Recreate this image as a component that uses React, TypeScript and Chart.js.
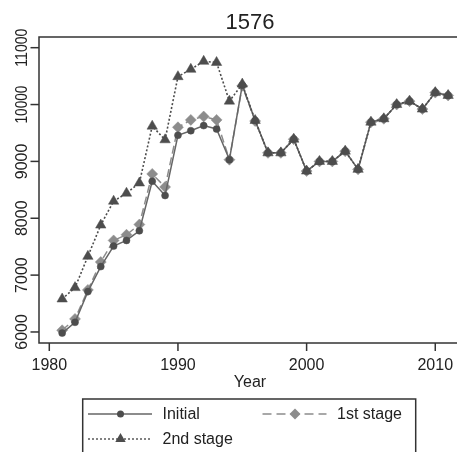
import React, { useEffect, useRef } from "react";
import { Chart, registerables } from "chart.js";

Chart.register(...registerables);

// Yearly series
const years = [
  1981, 1982, 1983, 1984, 1985, 1986, 1987, 1988, 1989, 1990, 1991, 1992, 1993, 1994, 1995, 1996,
  1997, 1998, 1999, 2000, 2001, 2002, 2003, 2004, 2005, 2006, 2007, 2008, 2009, 2010, 2011,
];
const initialValues = [
  5980, 6170, 6710, 7150, 7510, 7610, 7780, 8650, 8400, 9460, 9540, 9630, 9570, 9030, 10340, 9720,
  9150, 9150, 9390, 8830, 9000, 9000, 9180, 8860, 9690, 9750, 10000, 10060, 9920, 10210, 10160,
];
const firstStageValues = [
  6030, 6230, 6740, 7230, 7610, 7710, 7890, 8780, 8550, 9600, 9730, 9790, 9730, 9030, 10330, 9710,
  9150, 9150, 9390, 8830, 9000, 9000, 9180, 8860, 9690, 9750, 10000, 10060, 9920, 10210, 10160,
];
const secondStageValues = [
  6580, 6780, 7330, 7880, 8300, 8440, 8620, 9620, 9380, 10490, 10620, 10760, 10740, 10060, 10360, 9720,
  9150, 9150, 9390, 8830, 9000, 9000, 9180, 8860, 9690, 9750, 10000, 10060, 9920, 10210, 10160,
];

const xTicks = [1980, 1990, 2000, 2010];
const yTicks = [6000, 7000, 8000, 9000, 10000, 11000];
const chartTitle = "1576";
const xAxisTitle = "Year";
const seriesNames = ["Initial", "1st stage", "2nd stage"];

const FONT = "'Liberation Sans', Arial, Helvetica, sans-serif";
const INK = "#333333";
const DARK = "#4d4d4d";
const MID = "#666666";
const LIGHT = "#8c8c8c";

function markerPath(ctx: CanvasRenderingContext2D, style: string, x: number, y: number, r: number) {
  ctx.beginPath();
  if (style === "circle") {
    ctx.arc(x, y, r, 0, Math.PI * 2);
  } else if (style === "rectRot") {
    ctx.moveTo(x, y - r);
    ctx.lineTo(x + r, y);
    ctx.lineTo(x, y + r);
    ctx.lineTo(x - r, y);
  } else {
    let a = 0;
    ctx.moveTo(x + Math.sin(a) * r, y - Math.cos(a) * r);
    a += (2 * Math.PI) / 3;
    ctx.lineTo(x + Math.sin(a) * r, y - Math.cos(a) * r);
    a += (2 * Math.PI) / 3;
    ctx.lineTo(x + Math.sin(a) * r, y - Math.cos(a) * r);
  }
  ctx.closePath();
}

const decorPlugin = {
  id: "decor",
  afterDraw(chart: any) {
    const { ctx, chartArea, scales } = chart;
    const { left, right, top, bottom } = chartArea;
    const xs = scales.x;
    const ys = scales.y;
    ctx.save();

    // plot frame
    ctx.strokeStyle = INK;
    ctx.lineWidth = 1.5;
    ctx.strokeRect(left, top, right - left, bottom - top);

    ctx.fillStyle = "#222222";
    ctx.font = `16px ${FONT}`;

    // x axis ticks and labels
    ctx.textAlign = "center";
    ctx.textBaseline = "alphabetic";
    xTicks.forEach((t) => {
      const x = xs.getPixelForValue(t);
      ctx.beginPath();
      ctx.moveTo(x, bottom);
      ctx.lineTo(x, bottom + 8);
      ctx.stroke();
      ctx.fillText(String(t), x, bottom + 27);
    });

    // y axis ticks and rotated labels
    yTicks.forEach((t) => {
      const y = ys.getPixelForValue(t);
      ctx.beginPath();
      ctx.moveTo(left - 8.5, y);
      ctx.lineTo(left, y);
      ctx.stroke();
      ctx.save();
      ctx.translate(left - 12, y);
      ctx.rotate(-Math.PI / 2);
      ctx.textAlign = "center";
      ctx.fillText(String(t), 0, 0, 38);
      ctx.restore();
    });

    // axis title
    ctx.fillText(xAxisTitle, (left + right) / 2, bottom + 44);

    // chart title
    ctx.font = `22px ${FONT}`;
    ctx.fillText(chartTitle, (left + right) / 2, 29);

    // legend
    const lx = 82.7;
    const ly = 399;
    ctx.lineWidth = 1.5;
    ctx.strokeStyle = INK;
    ctx.strokeRect(lx, ly, 333, 70);

    const entries = [
      { name: seriesNames[0], x: 88, y: 414, color: MID, mcolor: DARK, dash: [] as number[], style: "circle", r: 3.5 },
      { name: seriesNames[1], x: 262.5, y: 414, color: LIGHT, mcolor: LIGHT, dash: [9, 5], style: "rectRot", r: 5.5 },
      { name: seriesNames[2], x: 88, y: 439, color: DARK, mcolor: DARK, dash: [2, 2], style: "triangle", r: 6 },
    ];
    ctx.font = `16px ${FONT}`;
    ctx.textAlign = "left";
    ctx.textBaseline = "middle";
    entries.forEach((e) => {
      ctx.save();
      ctx.strokeStyle = e.color;
      ctx.lineWidth = 1.4;
      ctx.setLineDash(e.dash);
      ctx.beginPath();
      ctx.moveTo(e.x, e.y);
      ctx.lineTo(e.x + 64, e.y);
      ctx.stroke();
      ctx.setLineDash([]);
      ctx.fillStyle = e.mcolor;
      markerPath(ctx, e.style, e.x + 32.5, e.y, e.r);
      ctx.fill();
      ctx.restore();
      ctx.fillStyle = "#222222";
      ctx.fillText(e.name, e.x + 74.5, e.y + 1);
    });

    ctx.restore();
  },
};

export default function App() {
  const canvasRef = useRef<HTMLCanvasElement | null>(null);

  useEffect(() => {
    if (!canvasRef.current) return;
    const toPoints = (vals: number[]) => years.map((yr, i) => ({ x: yr, y: vals[i] }));
    const chart = new Chart(canvasRef.current, {
      type: "line",
      data: {
        datasets: [
          {
            label: seriesNames[0],
            data: toPoints(initialValues),
            borderColor: MID,
            borderWidth: 1.5,
            pointStyle: "circle",
            pointRadius: 3.5,
            pointBackgroundColor: DARK,
            pointBorderColor: DARK,
            pointBorderWidth: 0.5,
            order: 1,
          },
          {
            label: seriesNames[1],
            data: toPoints(firstStageValues),
            borderColor: LIGHT,
            borderWidth: 1.5,
            borderDash: [8, 4],
            pointStyle: "rectRot",
            pointRadius: 5.5,
            pointBackgroundColor: LIGHT,
            pointBorderColor: LIGHT,
            pointBorderWidth: 0.5,
            order: 2,
          },
          {
            label: seriesNames[2],
            data: toPoints(secondStageValues),
            borderColor: DARK,
            borderWidth: 1.6,
            borderDash: [2, 2],
            pointStyle: "triangle",
            pointRadius: 6,
            pointBackgroundColor: DARK,
            pointBorderColor: DARK,
            pointBorderWidth: 0.5,
            order: 0,
          },
        ],
      },
      options: {
        animation: false,
        responsive: false,
        devicePixelRatio: 1,
        layout: { padding: { left: 39, right: 9, top: 37, bottom: 109 } },
        scales: {
          x: { type: "linear", min: 1979.2, max: 2012, display: false },
          y: { type: "linear", min: 5806, max: 11188, display: false },
        },
        plugins: {
          legend: { display: false },
          tooltip: { enabled: false },
          title: { display: false },
        },
        elements: { line: { tension: 0 } },
      },
      plugins: [decorPlugin],
    });
    return () => chart.destroy();
  }, []);

  return (
    <div
      style={{
        position: "fixed",
        left: 0,
        top: 0,
        width: 457,
        height: 452,
        overflow: "hidden",
        background: "#ffffff",
      }}
    >
      <canvas ref={canvasRef} width={470} height={452} style={{ width: 470, height: 452, display: "block" }} />
    </div>
  );
}
